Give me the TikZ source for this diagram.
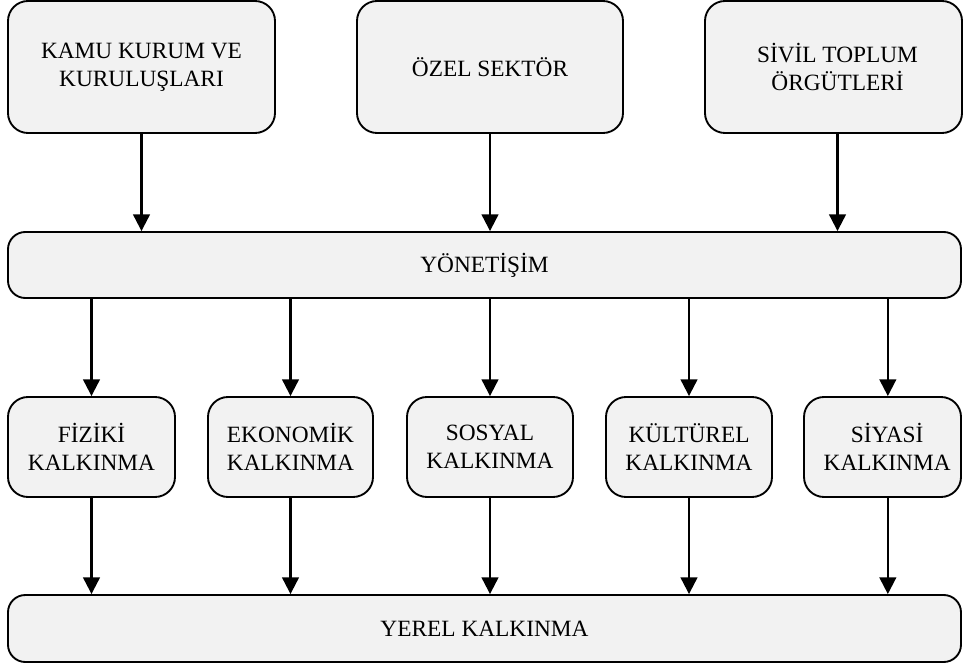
\documentclass[tikz,border=0pt]{standalone}
\usepackage{fontspec}
\setmainfont{Liberation Serif}
\usetikzlibrary{arrows.meta,calc}
\definecolor{boxfill}{HTML}{F2F2F2}
\tikzset{
  box/.style={draw=black, line width=1.4pt, fill=boxfill, rounded corners=15pt,
    align=center, inner sep=0pt, font=\fontsize{17.5}{21}\selectfont},
  bar/.style={box, rounded corners=13pt},
  arr/.style={line width=1.6pt, -{Triangle[length=12.5pt,width=12.5pt]}}
}
\begin{document}
\begin{tikzpicture}[x=0.75pt,y=-0.75pt]
\useasboundingbox (0,0) rectangle (963,666);
% top row
\node[box, minimum width=200.25pt, minimum height=99pt] (kamu) at (141.5,67) {KAMU KURUM VE\\KURULUŞLARI};
\node[box, minimum width=199.5pt, minimum height=99pt] (ozel) at (490,67) {ÖZEL SEKTÖR};
\node[box, minimum width=192.75pt, minimum height=99pt] (stk) at (833.5,67) {\hspace{6pt}SİVİL TOPLUM\\\hspace{6pt}ÖRGÜTLERİ};
% governance bar
\node[bar, minimum width=714.75pt, minimum height=49.5pt] (yon) at (484.5,265) {YÖNETİŞİM};
% middle row
\node[box, minimum width=125.25pt, minimum height=75pt] (fiz) at (91.5,447) {FİZİKİ\\KALKINMA};
\node[box, minimum width=123.75pt, minimum height=75pt] (eko) at (290.5,447) {EKONOMİK\\KALKINMA};
\node[box, minimum width=124.5pt, minimum height=75pt] (sos) at (490,447) {SOSYAL\\KALKINMA};
\node[box, minimum width=124.5pt, minimum height=75pt] (kul) at (689,447) {KÜLTÜREL\\KALKINMA};
\node[box, minimum width=117.75pt, minimum height=75pt] (siy) at (882.5,447) {\hspace{7pt}SİYASİ\\\hspace{7pt}KALKINMA};
% bottom bar
\node[bar, minimum width=714.75pt, minimum height=50.25pt] (yer) at (484.5,628.5) {YEREL KALKINMA};
% offset anchors for the right-hand boxes
\coordinate (stkS) at ([xshift=3pt]stk.south);
\coordinate (siyN) at ([xshift=4pt]siy.north);
\coordinate (siyS) at ([xshift=4pt]siy.south);
% arrows top -> governance
\draw[arr] (kamu.south) -- (kamu.south |- yon.north);
\draw[arr] (ozel.south) -- (ozel.south |- yon.north);
\draw[arr] (stkS) -- (stkS |- yon.north);
% governance -> middle -> local
\foreach \n in {fiz,eko,sos,kul}{
  \draw[arr] (yon.south -| \n.north) -- (\n.north);
  \draw[arr] (\n.south) -- (\n.south |- yer.north);
}
\draw[arr] (yon.south -| siyN) -- (siyN);
\draw[arr] (siyS) -- (siyS |- yer.north);
\end{tikzpicture}
\end{document}
